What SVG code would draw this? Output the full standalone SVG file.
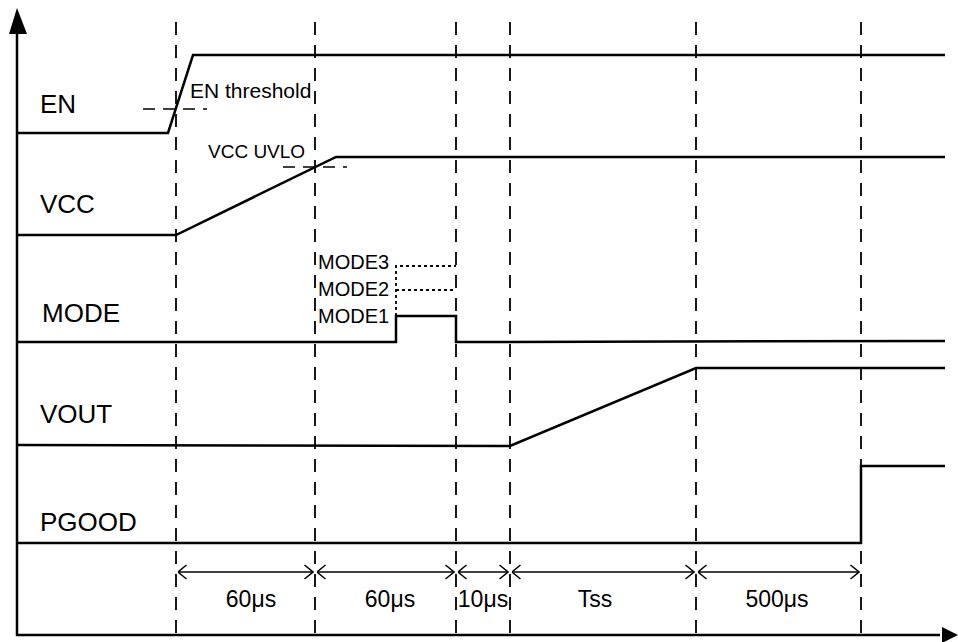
<svg xmlns="http://www.w3.org/2000/svg" width="958" height="642" viewBox="0 0 958 642">
<style>
.sig{fill:none;stroke:#000;stroke-width:2.5;stroke-linejoin:miter}
.ax{fill:none;stroke:#000;stroke-width:2.5}
.dash{fill:none;stroke:#000;stroke-width:1.8;stroke-dasharray:13,10}
.thr{fill:none;stroke:#000;stroke-width:1.5;stroke-dasharray:12,8}
.dot{fill:none;stroke:#000;stroke-width:1.8;stroke-dasharray:3,3}
.dim{fill:none;stroke:#000;stroke-width:1.3}
text{font-family:"Liberation Sans",Arial,sans-serif;fill:#000}
.big{font-size:26px}
.mid{font-size:20px}
.dl{font-size:23px;text-anchor:middle}
</style>
<defs>
<marker id="oa" viewBox="0 0 10 16" refX="9.5" refY="8" markerWidth="10" markerHeight="16" markerUnits="userSpaceOnUse" orient="auto-start-reverse">
<path d="M1,1 L9.5,8 L1,15" fill="none" stroke="#000" stroke-width="1.5"/>
</marker>
</defs>
<g id="axes">
<line class="ax" x1="17" y1="30" x2="17" y2="636"/>
<polygon points="17,8 9,34 27,34"/>
<line class="ax" x1="16" y1="635" x2="940" y2="635"/>
<polygon points="958,635 942,627 942,643"/>
</g>
<g id="gridlines">
<line class="dash" x1="176" y1="22" x2="176" y2="634"/>
<line class="dash" x1="315" y1="22" x2="315" y2="634"/>
<line class="dash" x1="456" y1="22" x2="456" y2="634"/>
<line class="dash" x1="510" y1="22" x2="510" y2="634"/>
<line class="dash" x1="696" y1="22" x2="696" y2="634"/>
<line class="dash" x1="861" y1="22" x2="861" y2="634"/>
</g>
<g id="EN">
<polyline class="sig" points="17,133 168,133 193,55 945,55"/>
<line class="thr" x1="143" y1="109" x2="207" y2="109"/>
<text class="big" x="40" y="113">EN</text>
<text x="190" y="98" font-size="21">EN threshold</text>
</g>
<g id="VCC">
<polyline class="sig" points="17,235 176,235 336,157 945,157"/>
<line class="thr" x1="283" y1="167" x2="347" y2="167"/>
<text class="big" x="40" y="213">VCC</text>
<text x="208" y="158" font-size="19">VCC UVLO</text>
</g>
<g id="MODE">
<polyline class="sig" points="17,342 396,342 396,316 456,316 456,342 945,341"/>
<polyline class="dot" points="396,316 396,266 456,266"/>
<line class="dot" x1="396" y1="290" x2="456" y2="290"/>
<text class="big" x="42" y="322">MODE</text>
<text class="mid" x="318" y="269">MODE3</text>
<text class="mid" x="318" y="296">MODE2</text>
<text class="mid" x="318" y="323">MODE1</text>
</g>
<g id="VOUT">
<polyline class="sig" points="17,445 510,446 696,368 945,368"/>
<text class="big" x="40" y="423">VOUT</text>
</g>
<g id="PGOOD">
<polyline class="sig" points="17,543 861,543 861,466 945,466"/>
<text class="big" x="40" y="531">PGOOD</text>
</g>
<g id="connectors">
<line class="dim" x1="178" y1="572" x2="313" y2="572" marker-start="url(#oa)" marker-end="url(#oa)"/>
<line class="dim" x1="317" y1="572" x2="454" y2="572" marker-start="url(#oa)" marker-end="url(#oa)"/>
<line class="dim" x1="458" y1="572" x2="508" y2="572" marker-start="url(#oa)" marker-end="url(#oa)"/>
<line class="dim" x1="512" y1="572" x2="694" y2="572" marker-start="url(#oa)" marker-end="url(#oa)"/>
<line class="dim" x1="698" y1="572" x2="859" y2="572" marker-start="url(#oa)" marker-end="url(#oa)"/>
</g>
<g id="labels">
<text class="dl" x="251" y="607">60μs</text>
<text class="dl" x="390" y="607">60μs</text>
<text class="dl" x="483" y="607">10μs</text>
<text class="dl" x="595" y="607">Tss</text>
<text class="dl" x="777" y="607">500μs</text>
</g>
</svg>
